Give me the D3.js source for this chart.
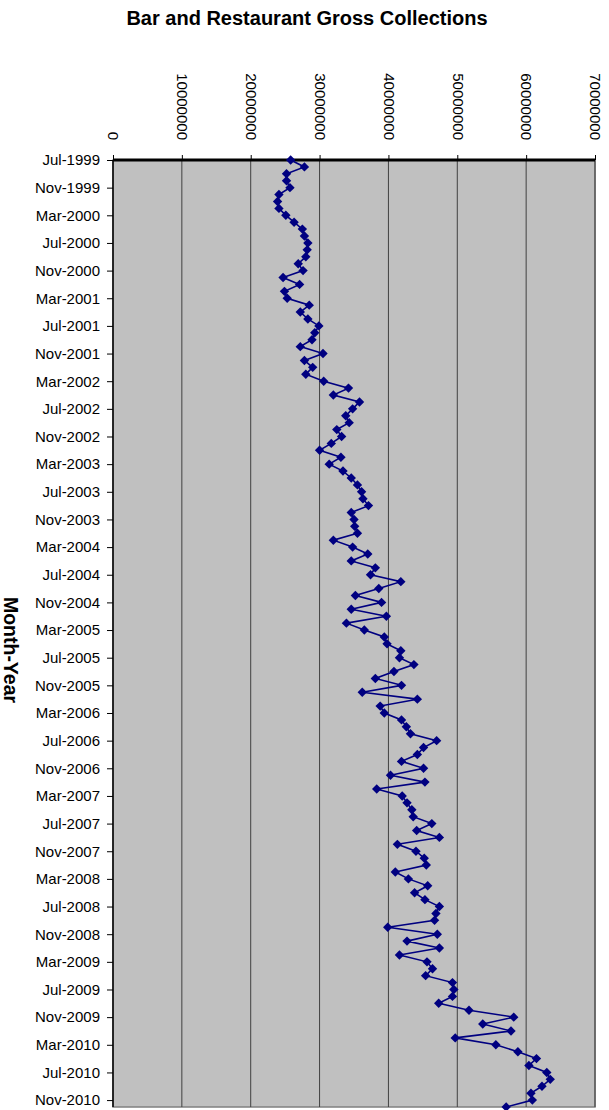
<!DOCTYPE html>
<html>
<head>
<meta charset="utf-8">
<script src="https://cdn.jsdelivr.net/npm/d3@7"></script>
<style>
  html, body { margin: 0; padding: 0; background: #ffffff; }
  svg { display: block; font-family: "Liberation Sans", Arial, sans-serif; }
</style>
</head>
<body>
<svg id="chart" width="609" height="1110"></svg>
<script>
// Monthly gross collections, Jul-1999 through Dec-2010 (in millions)
const startMonth = new Date(1999, 6, 1);
const endMonth = new Date(2011, 0, 1);
const months = d3.timeMonth.range(startMonth, endMonth);

const collectionsMillions = [
  25.8, 27.8, 25.2, 25.2, 25.7, 24.1, 23.9, 24.1, 25.1, 26.3,
  27.5, 27.8, 28.3, 28.2, 28.0, 26.9, 27.6, 24.7, 27.1, 24.9,
  25.3, 28.5, 27.2, 28.3, 29.9, 29.3, 28.9, 27.2, 30.5, 27.8,
  29.0, 28.0, 30.6, 34.2, 32.0, 35.8, 34.8, 33.8, 34.3, 32.5,
  33.2, 31.7, 30.0, 33.1, 31.4, 33.4, 34.6, 35.5, 36.1, 36.3,
  37.1, 34.6, 35.0, 35.1, 35.5, 32.0, 34.8, 37.0, 34.6, 38.1,
  37.4, 41.8, 38.6, 35.2, 39.0, 34.6, 39.7, 33.9, 36.5, 39.4,
  39.8, 41.8, 41.6, 43.7, 40.8, 38.1, 41.9, 36.2, 44.2, 38.8,
  39.4, 41.9, 42.6, 43.2, 47.0, 45.1, 44.2, 41.9, 45.1, 40.3,
  45.3, 38.3, 42.0, 42.7, 43.4, 43.6, 46.3, 44.1, 47.4, 41.3,
  44.0, 45.2, 45.5, 41.0, 42.9, 45.7, 43.8, 45.3, 47.4, 46.9,
  46.7, 39.9, 47.1, 42.7, 47.4, 41.6, 45.6, 46.4, 45.4, 49.3,
  49.5, 49.3, 47.3, 51.7, 58.2, 53.7, 57.8, 49.7, 55.6, 58.8,
  61.5, 60.4, 63.0, 63.5, 62.3, 60.7, 60.9, 57.1
];

const valueTicks = [0, 10000000, 20000000, 30000000, 40000000, 50000000, 60000000, 70000000];
const labelEvery = 4; // a month label every fourth month

const titleText = "Bar and Restaurant Gross Collections";
const axisTitle = "Month-Year";

const data = months.map((m, i) => ({ month: m, value: collectionsMillions[i] * 1e6 }));
const fmtMonth = d3.timeFormat("%b-%Y");

const svg = d3.select("#chart");
const plot = { left: 113, right: 595, top: 160, bottom: 1107 };

const x = d3.scaleLinear().domain([0, 70000000]).range([plot.left, plot.right]);
const y = d3.scalePoint().domain(months.map(d => +d)).range([plot.top, plot.bottom]);

// plot background
svg.append("rect")
  .attr("x", plot.left).attr("y", plot.top)
  .attr("width", plot.right - plot.left).attr("height", plot.bottom - plot.top)
  .attr("fill", "#c0c0c0")
  .attr("stroke", "#808080").attr("stroke-width", 1.5);

// vertical gridlines
svg.append("g")
  .selectAll("line")
  .data(valueTicks.slice(1))
  .join("line")
  .attr("x1", d => x(d)).attr("x2", d => x(d))
  .attr("y1", plot.top).attr("y2", plot.bottom)
  .attr("stroke", "#404040").attr("stroke-width", 1);

// value axis across the top
const xAxis = d3.axisTop(x).tickValues(valueTicks).tickSize(5).tickFormat(d3.format("d"));
const gx = svg.append("g").attr("transform", `translate(0,${plot.top})`).call(xAxis);
gx.select(".domain").attr("stroke", "#000").attr("stroke-width", 3).attr("d", `M${plot.left},0H${plot.right}`);
gx.selectAll(".tick line").attr("stroke", "#000").attr("stroke-width", 1);
gx.selectAll(".tick text")
  .attr("font-size", 15)
  .attr("fill", "#000")
  .attr("text-anchor", "end")
  .attr("transform", "translate(0,-20) rotate(90)")
  .attr("x", 0).attr("y", 0).attr("dy", "0.35em");

// month axis on the left
const monthTicks = months.filter((m, i) => i % labelEvery === 0).map(d => +d);
const yAxis = d3.axisLeft(y).tickValues(monthTicks).tickSize(6).tickPadding(7)
  .tickFormat(d => fmtMonth(new Date(d)));
const gy = svg.append("g").attr("transform", `translate(${plot.left},0)`).call(yAxis);
gy.select(".domain").attr("stroke", "#000").attr("stroke-width", 1.5).attr("d", `M0,${plot.top}V${plot.bottom}`);
gy.selectAll(".tick line").attr("stroke", "#000");
gy.selectAll(".tick text").attr("font-size", 15).attr("fill", "#000");

// series line
const line = d3.line().x(d => x(d.value)).y(d => y(+d.month));
svg.append("path")
  .datum(data)
  .attr("fill", "none")
  .attr("stroke", "#000080")
  .attr("stroke-width", 1.6)
  .attr("d", line);

// diamond markers
svg.append("g")
  .selectAll("path")
  .data(data)
  .join("path")
  .attr("transform", d => `translate(${x(d.value)},${y(+d.month)})`)
  .attr("d", "M0,-4.7L4.7,0L0,4.7L-4.7,0Z")
  .attr("fill", "#000080");

// chart title
svg.append("text")
  .attr("x", 307).attr("y", 25)
  .attr("text-anchor", "middle")
  .attr("font-size", 20).attr("font-weight", "bold")
  .text(titleText);

// month axis title
svg.append("text")
  .attr("transform", "translate(11,650) rotate(90)")
  .attr("text-anchor", "middle")
  .attr("dy", "0.35em")
  .attr("font-size", 19.5).attr("font-weight", "bold")
  .text(axisTitle);
</script>
</body>
</html>
